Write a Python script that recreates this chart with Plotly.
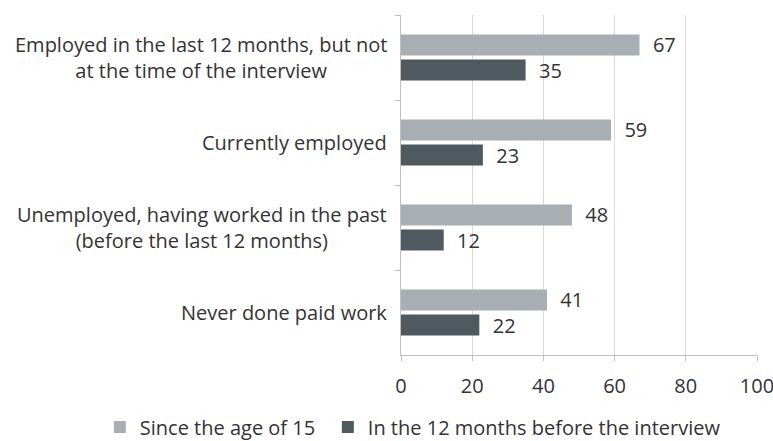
import plotly.graph_objects as go

categories = [
    "Employed in the last 12 months, but not<br>at the time of the interview",
    "Currently employed",
    "Unemployed, having worked in the past<br>(before the last 12 months)",
    "Never done paid work",
]
cat_keys = ["c1", "c2", "c3", "c4"]
since_15 = [67, 59, 48, 41]
last_12 = [35, 23, 12, 22]
series_names = ["Since the age of 15", "In the 12 months before the interview"]
x_ticks = [0, 20, 40, 60, 80, 100]

LIGHT = "#a8aeb3"
DARK = "#4f5960"
TEXT = "#333333"
FONT = "Open Sans"
FS = 20

fig = go.Figure()
for i, (name, vals, col) in enumerate([(series_names[0], since_15, LIGHT), (series_names[1], last_12, DARK)]):
    fig.add_trace(go.Bar(
        y=cat_keys, x=vals, orientation="h", name=name,
        marker=dict(color=col, line=dict(width=0)),
        text=vals, texttemplate="\u00a0\u00a0%{x}", textposition="outside",
        textfont=dict(size=FS, color=TEXT, family=FONT),
        constraintext="none", cliponaxis=False,
        legendwidth=183 if i == 0 else None,
    ))

for key, label in zip(cat_keys, categories):
    fig.add_annotation(
        x=0, xref="paper", y=key, yref="y", text=label, showarrow=False,
        xanchor="right", align="center", xshift=-12,
        font=dict(size=FS, color=TEXT, family=FONT),
    )

fig.update_layout(
    width=773, height=441,
    margin=dict(l=401, r=16, t=15, b=86, autoexpand=False),
    paper_bgcolor="white", plot_bgcolor="white",
    barmode="group", bargap=0.41, bargroupgap=0.16,
    font=dict(family=FONT, size=FS, color=TEXT),
    showlegend=True,
    legend=dict(
        orientation="h", xref="paper", x=-0.846, xanchor="left",
        yref="paper", y=-0.212, yanchor="middle",
        font=dict(size=FS, color=TEXT, family=FONT),
        itemwidth=30, traceorder="normal",
    ),
    xaxis=dict(
        range=[0, 100], tickvals=x_ticks, showgrid=True, gridcolor="#d9d9d9",
        gridwidth=1, showline=True, linecolor="#bfbfbf", linewidth=1,
        ticks="outside", ticklen=5, tickcolor="#bfbfbf", zeroline=False,
        tickfont=dict(size=FS, color=TEXT, family=FONT),
        ticklabelstandoff=8, ticklabeloverflow="allow", automargin=False,
    ),
    yaxis=dict(
        categoryorder="array", categoryarray=cat_keys, autorange="reversed",
        showticklabels=False, showline=True, linecolor="#bfbfbf", linewidth=1,
        ticks="outside", ticklen=5, tickcolor="#bfbfbf", tickson="boundaries",
        showgrid=False, automargin=False,
    ),
)

fig.write_html("out.html", config={"displayModeBar": False},
               post_script="document.body.style.margin='0';")
